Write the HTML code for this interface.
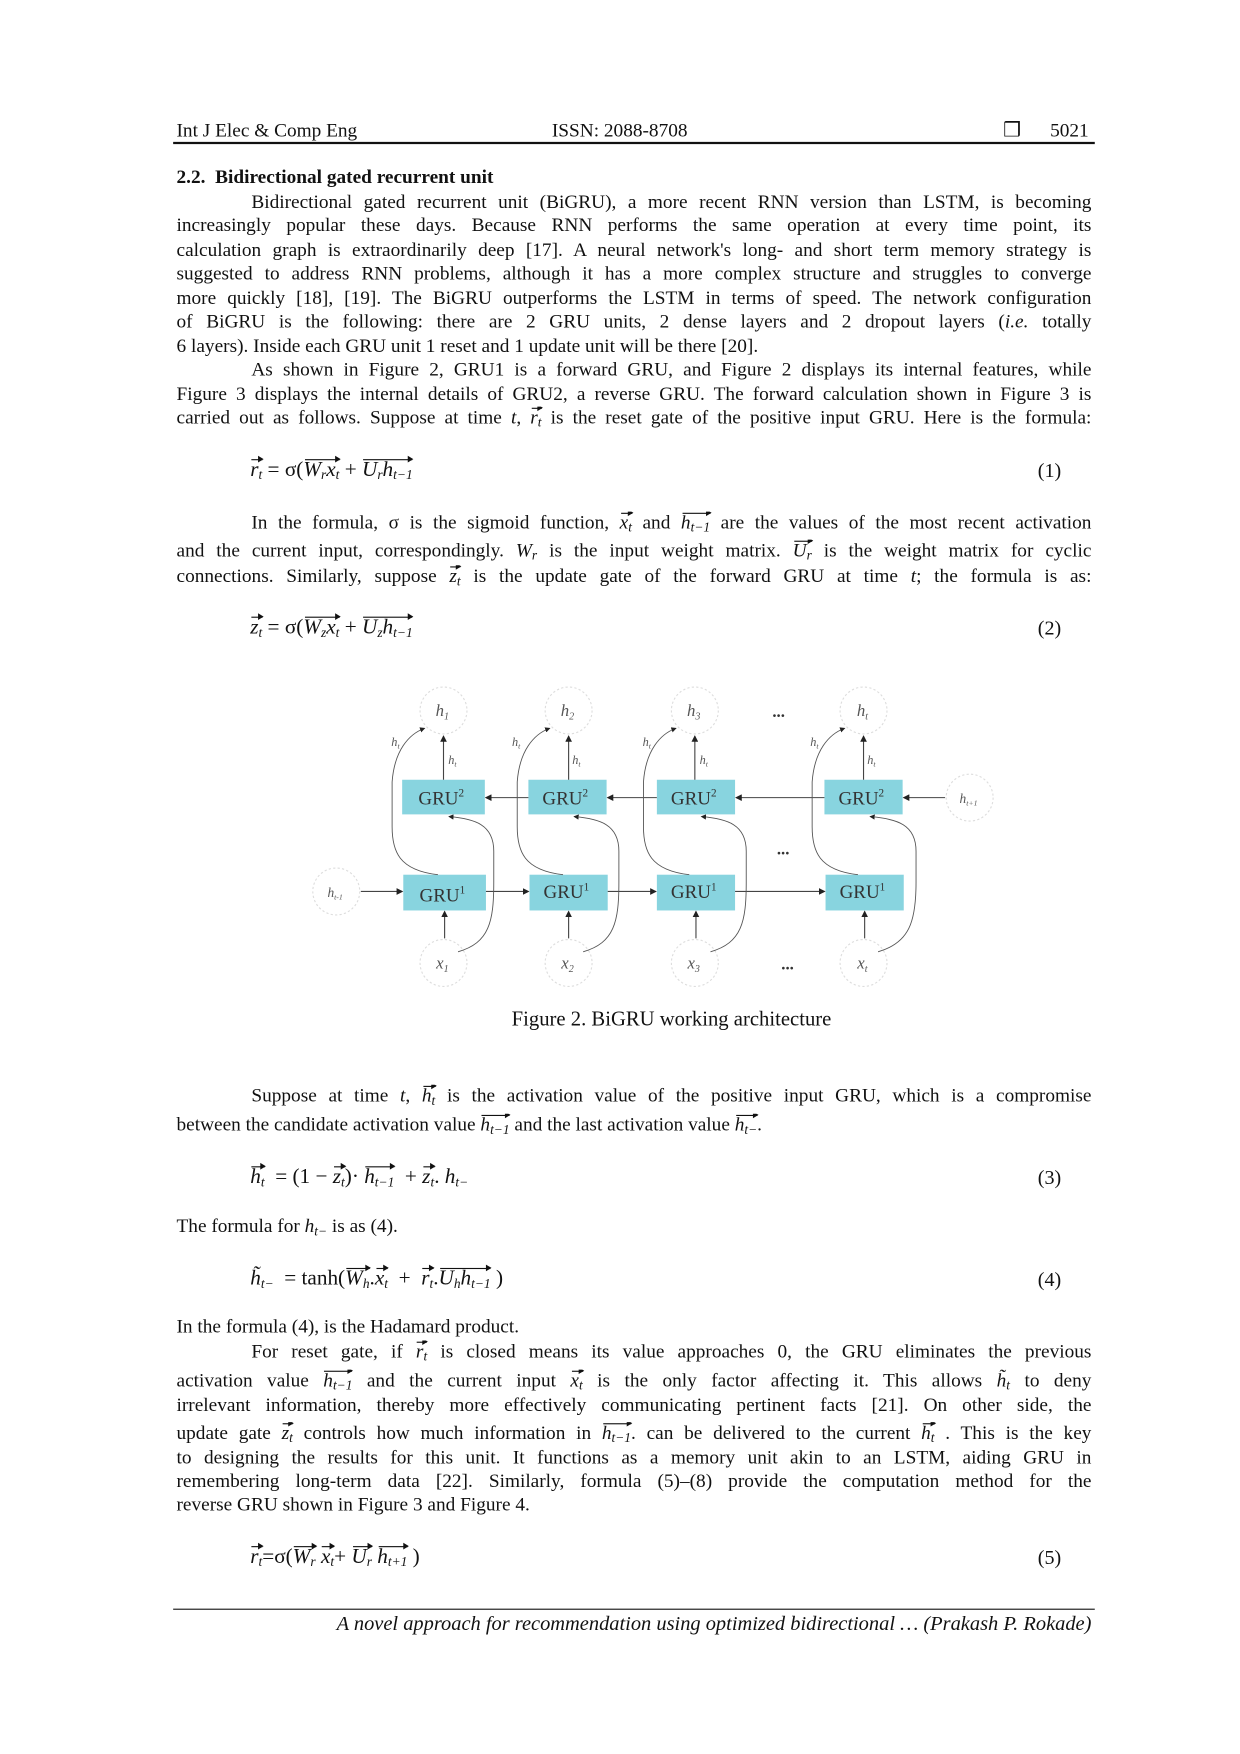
<!DOCTYPE html>
<html><head><meta charset="utf-8">
<style>
html,body{margin:0;padding:0;background:#fff;}
#wrap{width:1240px;height:1754px;overflow:hidden;position:relative;}
#pg{position:absolute;left:0;top:0;width:1110px;height:1571px;transform:scale(1.11712);transform-origin:0 0;font-family:"Liberation Serif",serif;color:#111;}
.l{position:absolute;left:158px;width:819px;font-size:17.3px;line-height:20px;white-space:nowrap;height:22px;overflow:hidden;}
.j{text-align:justify;text-align-last:justify;white-space:normal;}
.i{left:225px;width:752px;}
.v{position:relative;display:inline-block;font-style:italic;}
.v::before{content:"";position:absolute;left:1px;right:0;top:1px;border-top:1px solid #111;}
.v::after{content:"";position:absolute;right:-1px;top:-2px;border-left:5px solid #111;border-top:3px solid transparent;border-bottom:3px solid transparent;}
sub{font-size:12px;vertical-align:-3px;line-height:0;}
.eq{position:absolute;left:224px;font-size:19px;line-height:22px;white-space:nowrap;}
.en{position:absolute;left:929px;font-size:18px;line-height:20px;}
</style></head><body><div id="wrap"><div id="pg">

<div class="l" style="top:107px;">Int J Elec &amp; Comp Eng</div>
<div class="l" style="top:107px;left:494px;width:200px;">ISSN: 2088-8708</div>
<div class="l" style="top:106px;left:898px;width:20px;font-size:18px;">❒</div>
<div class="l" style="top:107px;left:940px;width:40px;">5021</div>
<div style="position:absolute;left:155px;top:127px;width:825px;height:2px;background:#111;"></div>

<div class="l" style="top:149px;font-weight:bold;">2.2.&nbsp; Bidirectional gated recurrent unit</div>
<div class="l j i" style="top:171px;">Bidirectional gated recurrent unit (BiGRU), a more recent RNN version than LSTM, is becoming</div>
<div class="l j" style="top:192px;">increasingly popular these days. Because RNN performs the same operation at every time point, its</div>
<div class="l j" style="top:214px;">calculation graph is extraordinarily deep [17]. A neural network's long- and short term memory strategy is</div>
<div class="l j" style="top:235px;">suggested to address RNN problems, although it has a more complex structure and struggles to converge</div>
<div class="l j" style="top:257px;">more quickly [18], [19]. The BiGRU outperforms the LSTM in terms of speed. The network configuration</div>
<div class="l j" style="top:278px;">of BiGRU is the following: there are 2 GRU units, 2 dense layers and 2 dropout layers (<i>i.e.</i> totally</div>
<div class="l" style="top:300px;">6 layers). Inside each GRU unit 1 reset and 1 update unit will be there [20].</div>
<div class="l j i" style="top:321px;">As shown in Figure 2, GRU1 is a forward GRU, and Figure 2 displays its internal features, while</div>
<div class="l j" style="top:343px;">Figure 3 displays the internal details of GRU2, a reverse GRU. The forward calculation shown in Figure 3 is</div>
<div class="l j" style="top:364px;">carried out as follows. Suppose at time <i>t</i>, <span class="v">r<sub>t</sub></span> is the reset gate of the positive input GRU. Here is the formula:</div>

<div class="eq" style="top:410px;"><span class="v">r<sub>t</sub></span> = σ(<span class="v">W<sub>r</sub>x<sub>t</sub></span> + <span class="v">U<sub>r</sub>h<sub>t−1</sub></span></div>
<div class="en" style="top:411px;">(1)</div>

<div class="l j i" style="top:458px;">In the formula, σ is the sigmoid function, <span class="v">x<sub>t</sub></span> and <span class="v">h<sub>t−1</sub></span> are the values of the most recent activation</div>
<div class="l j" style="top:483px;">and the current input, correspondingly. <i>W<sub>r</sub></i> is the input weight matrix. <span class="v">U<sub>r</sub></span> is the weight matrix for cyclic</div>
<div class="l j" style="top:506px;">connections. Similarly, suppose <span class="v">z<sub>t</sub></span> is the update gate of the forward GRU at time <i>t</i>; the formula is as:</div>

<div class="eq" style="top:551px;"><span class="v">z<sub>t</sub></span> = σ(<span class="v">W<sub>z</sub>x<sub>t</sub></span> + <span class="v">U<sub>z</sub>h<sub>t−1</sub></span></div>
<div class="en" style="top:552px;">(2)</div>

<svg style="position:absolute;left:0;top:0;" width="1110" height="900" viewBox="0 0 1110 900">
<defs><marker id="a" markerWidth="6" markerHeight="6" refX="5" refY="3" orient="auto"><path d="M0,0 L6,3 L0,6 z" fill="#222"/></marker></defs>
<g fill="none" stroke="#ddd" stroke-dasharray="2,2">
<circle cx="397" cy="636" r="21"/><circle cx="509" cy="636" r="21"/><circle cx="622" cy="636" r="21"/><circle cx="773" cy="636" r="21"/>
<circle cx="397" cy="862" r="21"/><circle cx="509" cy="862" r="21"/><circle cx="622" cy="862" r="21"/><circle cx="773" cy="862" r="21"/>
<circle cx="301" cy="798" r="21"/><circle cx="868" cy="714" r="21"/>
</g>
<g fill="#88d4df">
<rect x="360" y="698" width="74" height="31"/><rect x="473" y="698" width="70" height="31"/><rect x="588" y="698" width="70" height="31"/><rect x="738" y="698" width="70" height="31"/>
<rect x="361" y="783" width="74" height="32"/><rect x="474" y="783" width="70" height="32"/><rect x="588" y="783" width="70" height="32"/><rect x="739" y="783" width="70" height="32"/>
</g>
<g stroke="#444" stroke-width="1" fill="none" marker-end="url(#a)">
<line x1="323" y1="798" x2="360" y2="798"/><line x1="435" y1="798" x2="473" y2="798"/><line x1="544" y1="798" x2="587" y2="798"/><line x1="658" y1="798" x2="738" y2="798"/>
<line x1="846" y1="714" x2="809" y2="714"/><line x1="738" y1="714" x2="659" y2="714"/><line x1="588" y1="714" x2="544" y2="714"/><line x1="473" y1="714" x2="435" y2="714"/>
<line x1="397" y1="698" x2="397" y2="659"/><line x1="509" y1="698" x2="509" y2="659"/><line x1="622" y1="698" x2="622" y2="659"/><line x1="773" y1="698" x2="773" y2="659"/>
<line x1="398" y1="840" x2="398" y2="816"/><line x1="509" y1="840" x2="509" y2="816"/><line x1="623" y1="840" x2="623" y2="816"/><line x1="774" y1="840" x2="774" y2="816"/>
</g>
<g stroke="#555" stroke-width="0.8" fill="none" marker-end="url(#a)">
<path d="M410,852 C438,844 442,825 442,790 L442,762 C442,738 425,733 402,731"/>
<path d="M522,852 C550,844 554,825 554,790 L554,762 C554,738 537,733 514,731"/>
<path d="M636,852 C664,844 668,825 668,790 L668,762 C668,738 651,733 628,731"/>
<path d="M786,852 C814,844 820,825 820,790 L820,762 C820,738 803,733 779,731"/>
<path d="M392,783 C357,779 351,762 351,740 L351,700 C353,672 366,657 380,652"/>
<path d="M504,783 C469,779 463,762 463,740 L463,700 C465,672 478,657 492,652"/>
<path d="M617,783 C582,779 576,762 576,740 L576,700 C578,672 591,657 605,652"/>
<path d="M768,783 C733,779 727,762 727,740 L727,700 C729,672 742,657 756,652"/>
</g>
<g font-family="Liberation Serif,serif" font-size="17" fill="#333" text-anchor="middle">
<text x="395" y="720">GRU<tspan font-size="10" dy="-7">2</tspan></text>
<text x="506" y="720">GRU<tspan font-size="10" dy="-7">2</tspan></text>
<text x="621" y="720">GRU<tspan font-size="10" dy="-7">2</tspan></text>
<text x="771" y="720">GRU<tspan font-size="10" dy="-7">2</tspan></text>
<text x="396" y="807">GRU<tspan font-size="10" dy="-7">1</tspan></text>
<text x="507" y="804">GRU<tspan font-size="10" dy="-7">1</tspan></text>
<text x="621" y="804">GRU<tspan font-size="10" dy="-7">1</tspan></text>
<text x="772" y="804">GRU<tspan font-size="10" dy="-7">1</tspan></text>
</g>
<g font-family="Liberation Serif,serif" font-style="italic" font-size="15" fill="#555" text-anchor="middle">
<text x="396" y="641">h<tspan font-size="9" dy="3">1</tspan></text>
<text x="508" y="641">h<tspan font-size="9" dy="3">2</tspan></text>
<text x="621" y="641">h<tspan font-size="9" dy="3">3</tspan></text>
<text x="772" y="641">h<tspan font-size="9" dy="3">t</tspan></text>
<text x="396" y="867">x<tspan font-size="9" dy="3">1</tspan></text>
<text x="508" y="867">x<tspan font-size="9" dy="3">2</tspan></text>
<text x="621" y="867">x<tspan font-size="9" dy="3">3</tspan></text>
<text x="772" y="867">x<tspan font-size="9" dy="3">t</tspan></text>
<text x="300" y="803" font-size="12">h<tspan font-size="7" dy="2">t-1</tspan></text>
<text x="867" y="719" font-size="12">h<tspan font-size="7" dy="2">t+1</tspan></text>
<g font-size="11">
<text x="354" y="668">h<tspan font-size="7" dy="2">t</tspan></text><text x="405" y="684">h<tspan font-size="7" dy="2">t</tspan></text>
<text x="462" y="668">h<tspan font-size="7" dy="2">t</tspan></text><text x="516" y="684">h<tspan font-size="7" dy="2">t</tspan></text>
<text x="579" y="668">h<tspan font-size="7" dy="2">t</tspan></text><text x="630" y="684">h<tspan font-size="7" dy="2">t</tspan></text>
<text x="729" y="668">h<tspan font-size="7" dy="2">t</tspan></text><text x="780" y="684">h<tspan font-size="7" dy="2">t</tspan></text>
</g>
</g>
<g font-family="Liberation Serif,serif" font-size="15" font-weight="bold" fill="#333" text-anchor="middle">
<text x="697" y="642">...</text><text x="701" y="765">...</text><text x="705" y="868">...</text>
</g>
</svg>
<div class="l" style="top:903px;left:458px;width:400px;font-size:18.5px;">Figure 2. BiGRU working architecture</div>

<div class="l j i" style="top:971px;">Suppose at time <i>t</i>, <span class="v">h<sub>t</sub></span> is the activation value of the positive input GRU, which is a compromise</div>
<div class="l" style="top:997px;">between the candidate activation value <span class="v">h<sub>t−1</sub></span> and the last activation value <span class="v">h<sub>t−</sub></span>.</div>

<div class="eq" style="top:1043px;"><span class="v">h<sub>t</sub></span> &nbsp;= (1 − <span class="v">z<sub>t</sub></span>)· <span class="v">h<sub>t−1</sub></span> &nbsp;+ <span class="v">z<sub>t</sub></span>. <i>h<sub>t−</sub></i></div>
<div class="en" style="top:1044px;">(3)</div>

<div class="l" style="top:1088px;">The formula for <i>h<sub>t−</sub></i> is as (4).</div>

<div class="eq" style="top:1134px;"><i>h̃<sub>t−</sub></i> &nbsp;= tanh(<span class="v">W<sub>h</sub></span>.<span class="v">x<sub>t</sub></span> &nbsp;+ &nbsp;<span class="v">r<sub>t</sub></span>.<span class="v">U<sub>h</sub>h<sub>t−1</sub></span> )</div>
<div class="en" style="top:1135px;">(4)</div>

<div class="l" style="top:1178px;">In the formula (4), is the Hadamard product.</div>
<div class="l j i" style="top:1200px;">For reset gate, if <span class="v">r<sub>t</sub></span> is closed means its value approaches 0, the GRU eliminates the previous</div>
<div class="l j" style="top:1226px;">activation value <span class="v">h<sub>t−1</sub></span> and the current input <span class="v">x<sub>t</sub></span> is the only factor affecting it. This allows <i>h̃<sub>t</sub></i> to deny</div>
<div class="l j" style="top:1248px;">irrelevant information, thereby more effectively communicating pertinent facts [21]. On other side, the</div>
<div class="l j" style="top:1273px;">update gate <span class="v">z<sub>t</sub></span> controls how much information in <span class="v">h<sub>t−1</sub></span>. can be delivered to the current <span class="v">h<sub>t</sub></span> . This is the key</div>
<div class="l j" style="top:1295px;">to designing the results for this unit. It functions as a memory unit akin to an LSTM, aiding GRU in</div>
<div class="l j" style="top:1316px;">remembering long-term data [22]. Similarly, formula (5)–(8) provide the computation method for the</div>
<div class="l" style="top:1337px;">reverse GRU shown in Figure 3 and Figure 4.</div>

<div class="eq" style="top:1383px;"><span class="v">r<sub>t</sub></span>=σ(<span class="v">W<sub>r</sub></span> <span class="v">x<sub>t</sub></span>+ <span class="v">U<sub>r</sub></span> <span class="v">h<sub>t+1</sub></span> )</div>
<div class="en" style="top:1384px;">(5)</div>

<div style="position:absolute;left:155px;top:1440px;width:825px;height:1px;background:#111;"></div>
<div class="l" style="top:1443px;text-align:right;font-style:italic;font-size:18.3px;">A novel approach for recommendation using optimized bidirectional … (Prakash P. Rokade)</div>

</div></div></body></html>
